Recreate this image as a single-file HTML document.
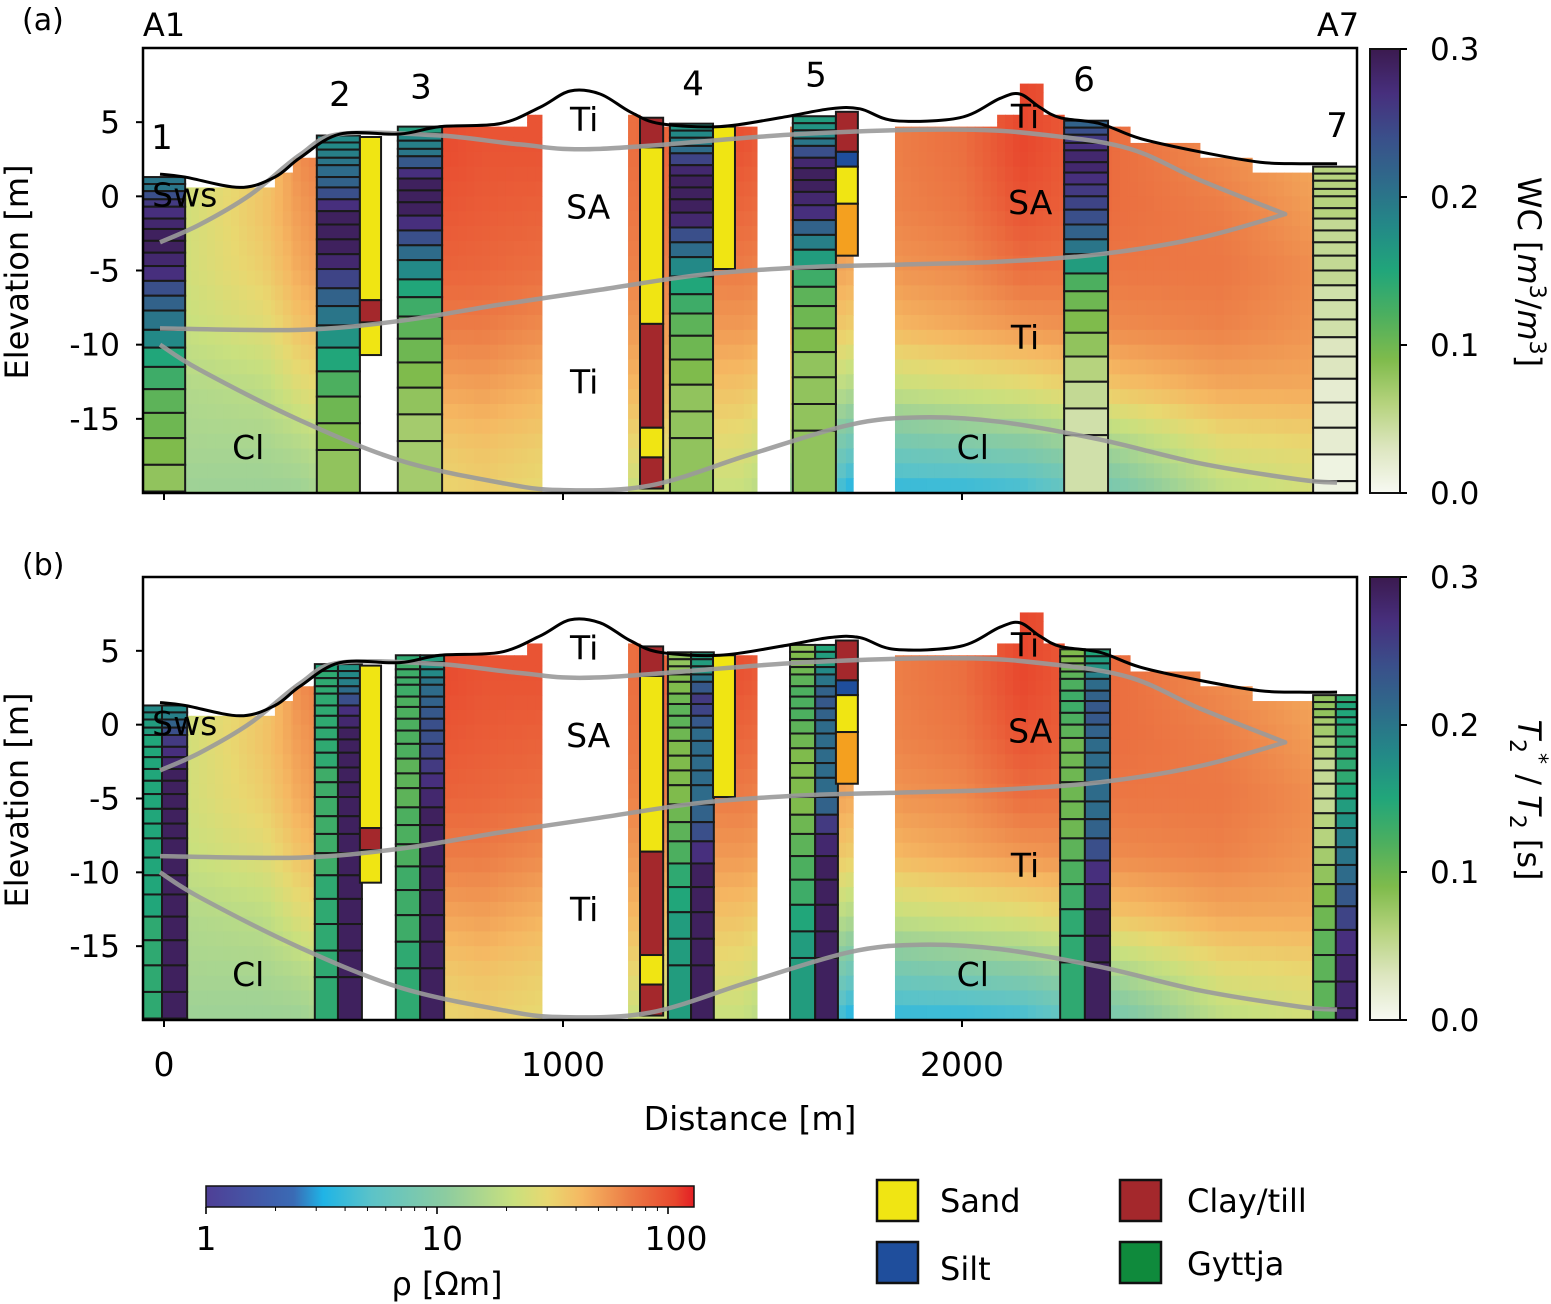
<!DOCTYPE html>
<html><head><meta charset="utf-8"><style>
html,body{margin:0;padding:0;background:#fff;}
svg{display:block;font-family:"DejaVu Sans","Liberation Sans",sans-serif;}
</style></head><body>
<svg id="fig" width="1551" height="1304" viewBox="0 0 1551 1304" xmlns="http://www.w3.org/2000/svg">
<defs>
<clipPath id="clipA"><rect x="143" y="48" width="1214" height="445"/></clipPath>
<clipPath id="clipB"><rect x="143" y="577" width="1214" height="443"/></clipPath>
<linearGradient id="wcGrad" x1="0" y1="1" x2="0" y2="0">
<stop offset="0" stop-color="#f7f9f2"/><stop offset="0.1" stop-color="#dde6c0"/><stop offset="0.2" stop-color="#b6d37e"/><stop offset="0.3" stop-color="#7fbb4c"/><stop offset="0.4" stop-color="#4caf5f"/><stop offset="0.5" stop-color="#21a67a"/><stop offset="0.6" stop-color="#238987"/><stop offset="0.7" stop-color="#2e6b8a"/><stop offset="0.8" stop-color="#3a4f8a"/><stop offset="0.9" stop-color="#472f7d"/><stop offset="1" stop-color="#3b1a4f"/>
</linearGradient>
<linearGradient id="rhoGrad" x1="0" y1="0" x2="1" y2="0">
<stop offset="0" stop-color="#4f3f96"/><stop offset="0.18" stop-color="#3a6bb5"/><stop offset="0.24" stop-color="#1fb4e6"/><stop offset="0.34" stop-color="#5cc3c8"/><stop offset="0.49" stop-color="#8ccca0"/><stop offset="0.63" stop-color="#c9e07e"/><stop offset="0.7" stop-color="#e8d870"/><stop offset="0.77" stop-color="#f5b862"/><stop offset="0.87" stop-color="#ec7a45"/><stop offset="0.96" stop-color="#e8482e"/><stop offset="1" stop-color="#e31e24"/>
</linearGradient>
</defs>
<g id="panelA"></g>
<g id="panelB"></g>
<g id="static">
<text x="22" y="30" font-size="30">(a)</text>
<text x="22" y="575" font-size="30">(b)</text>
<text x="164" y="36" font-size="32" text-anchor="middle">A1</text>
<text x="1338" y="36" font-size="32" text-anchor="middle">A7</text>
<text transform="translate(28,272) rotate(-90)" font-size="32" text-anchor="middle">Elevation [m]</text>
<text transform="translate(28,800) rotate(-90)" font-size="32" text-anchor="middle">Elevation [m]</text>
<text x="750" y="1130" font-size="33" text-anchor="middle">Distance [m]</text>
<rect x="1370" y="49" width="30" height="444" fill="url(#wcGrad)" stroke="#111" stroke-width="2"/>
<rect x="1370" y="577" width="30" height="443" fill="url(#wcGrad)" stroke="#111" stroke-width="2"/>
<g font-size="31">
<line x1="1400" y1="49" x2="1407" y2="49" stroke="#000" stroke-width="2"/><text x="1430" y="60">0.3</text>
<line x1="1400" y1="197" x2="1407" y2="197" stroke="#000" stroke-width="2"/><text x="1430" y="208">0.2</text>
<line x1="1400" y1="345" x2="1407" y2="345" stroke="#000" stroke-width="2"/><text x="1430" y="356">0.1</text>
<line x1="1400" y1="493" x2="1407" y2="493" stroke="#000" stroke-width="2"/><text x="1430" y="504">0.0</text>
</g>
<g font-size="31">
<line x1="1400" y1="577" x2="1407" y2="577" stroke="#000" stroke-width="2"/><text x="1430" y="588">0.3</text>
<line x1="1400" y1="725" x2="1407" y2="725" stroke="#000" stroke-width="2"/><text x="1430" y="736">0.2</text>
<line x1="1400" y1="872" x2="1407" y2="872" stroke="#000" stroke-width="2"/><text x="1430" y="883">0.1</text>
<line x1="1400" y1="1020" x2="1407" y2="1020" stroke="#000" stroke-width="2"/><text x="1430" y="1031">0.0</text>
</g>
<text transform="translate(1518,272) rotate(90)" font-size="32" text-anchor="middle">WC [<tspan font-style="italic">m</tspan><tspan font-size="22" dy="-12">3</tspan><tspan dy="12">/</tspan><tspan font-style="italic">m</tspan><tspan font-size="22" dy="-12">3</tspan><tspan dy="12">]</tspan></text>
<text transform="translate(1518,800) rotate(90)" font-size="32" text-anchor="middle"><tspan font-style="italic">T</tspan><tspan font-size="22" dy="8">2</tspan><tspan font-size="22" dy="-22">*</tspan><tspan dy="14"> / </tspan><tspan font-style="italic">T</tspan><tspan font-size="22" dy="8">2</tspan><tspan dy="-8"> [s]</tspan></text>
<rect x="206" y="1186" width="488" height="21" fill="url(#rhoGrad)" stroke="#111" stroke-width="1.5"/>
<g id="rhoTicks"></g>
<text x="206" y="1250" font-size="33" text-anchor="middle">1</text>
<text x="442" y="1250" font-size="33" text-anchor="middle">10</text>
<text x="676" y="1250" font-size="33" text-anchor="middle">100</text>
<text x="447" y="1295" font-size="32" text-anchor="middle">ρ [Ωm]</text>
<g><rect x="877" y="1180" width="41" height="41" fill="#f0e513" stroke="#111" stroke-width="2.5"/><text x="940" y="1212" font-size="32">Sand</text></g>
<g><rect x="877" y="1242" width="41" height="41" fill="#1f4e9c" stroke="#111" stroke-width="2.5"/><text x="940" y="1280" font-size="32">Silt</text></g>
<g><rect x="1120" y="1180" width="41" height="41" fill="#a4282c" stroke="#111" stroke-width="2.5"/><text x="1187" y="1212" font-size="32">Clay/till</text></g>
<g><rect x="1120" y="1242" width="41" height="41" fill="#0f8a3c" stroke="#111" stroke-width="2.5"/><text x="1187" y="1275" font-size="32">Gyttja</text></g>
</g>
</svg>
<script>
// ---------- DATA ----------
const xTicks = [0, 1000, 2000];
const yTicks = [5, 0, -5, -10, -15];
const yTickLabels = ["5", "0", "-5", "-10", "-15"];
const topoDist = [-10,53,190,278,341,441,591,692,842,942,1018,1093,1168,1243,1393,1544,1669,1744,1832,1995,2095,2145,2195,2246,2346,2446,2596,2747,2847,2940];
const topoElev = [1.5,1.3,0.6,1.3,2.6,4.2,4.2,4.7,4.9,6.0,7.1,6.9,5.7,4.9,4.7,5.3,5.9,5.9,5.1,5.3,6.6,6.9,6.0,5.3,4.9,3.9,3.0,2.3,2.2,2.2];
const lensTopDist = [-10,90,216,341,441,692,892,1093,1594,1995,2221,2421,2596,2810];
const lensTopElev = [-3.1,-1.9,0.1,2.8,4.2,4.1,3.5,3.2,4.2,4.5,4.1,3.2,1.1,-1.2];
const lensBotDist = [2810,2596,2346,2095,1845,1594,1343,1093,842,591,341,-10];
const lensBotElev = [-1.2,-2.8,-3.9,-4.4,-4.6,-4.8,-5.3,-6.3,-7.3,-8.4,-9.0,-8.9];
const clayTopDist = [-10,90,341,591,842,992,1218,1469,1719,1895,2095,2346,2596,2847,2940];
const clayTopElev = [-10,-11.7,-15.1,-17.8,-19.3,-19.8,-19.5,-17.4,-15.4,-14.9,-15.2,-16.4,-18.0,-19.1,-19.3];
const rhoElevLevels = [7,3,-1,-5,-9,-13,-17,-20];
const rhoProfileDist = [60,250,340,650,800,940,1170,1450,1600,1720,1850,2000,2150,2400,2650,2870];
const rhoP0 = [1.35,1.35,1.35,1.35,1.3,1.2,1.15,1.1];
const rhoP1 = [1.5,1.5,1.55,1.5,1.4,1.25,1.15,1.1];
const rhoP2 = [1.8,1.75,1.7,1.65,1.55,1.4,1.2,1.1];
const rhoP3 = [2.0,2.0,1.95,1.9,1.8,1.65,1.5,1.45];
const rhoP4 = [1.95,1.95,1.92,1.88,1.8,1.68,1.55,1.5];
const rhoP5 = [1.95,1.95,1.9,1.85,1.75,1.62,1.5,1.45];
const rhoP6 = [1.85,1.85,1.82,1.78,1.7,1.6,1.45,1.3];
const rhoP7 = [2.0,1.95,1.88,1.8,1.7,1.55,1.4,1.3];
const rhoP8 = [1.8,1.8,1.78,1.72,1.62,1.4,1.15,1.0];
const rhoP9 = [1.75,1.75,1.72,1.65,1.5,1.2,0.8,0.5];
const rhoP10 = [1.8,1.8,1.78,1.72,1.6,1.3,0.85,0.55];
const rhoP11 = [1.85,1.85,1.82,1.75,1.65,1.35,0.9,0.55];
const rhoP12 = [2.0,2.0,1.95,1.85,1.7,1.4,0.95,0.6];
const rhoP13 = [1.85,1.85,1.85,1.82,1.75,1.55,1.15,0.9];
const rhoP14 = [1.75,1.75,1.8,1.82,1.78,1.65,1.4,1.25];
const rhoP15 = [1.65,1.65,1.7,1.75,1.72,1.65,1.45,1.35];
const rhoProfiles = [rhoP0,rhoP1,rhoP2,rhoP3,rhoP4,rhoP5,rhoP6,rhoP7,rhoP8,rhoP9,rhoP10,rhoP11,rhoP12,rhoP13,rhoP14,rhoP15];
const rhoBlockStart = [-52,278,323,697,910,1163,1193,1569,1832,2088,2145,2203,2256,2421,2596,2727];
const rhoBlockEnd   = [278,323,383,910,947,1193,1486,1727,2088,2145,2203,2256,2421,2596,2727,2880];
const rhoBlockTop   = [0.6,1.6,2.6,4.7,5.5,5.5,4.7,4.7,4.7,5.5,7.6,5.5,4.7,3.6,2.6,1.6];
const layerDepths = [0,0.47,0.95,1.5,2.0,2.8,3.5,4.3,5.1,6.0,7.0,8.0,9.0,10.3,11.5,12.8,14.3,15.9,17.6,19.4,21.2,23.2];
const bhNames = ["1","2","3","4","5","6","7"];
const bhTop = [1.3,4.1,4.7,4.9,5.4,5.1,2.0];
const bhStartA = [-53,383,586,1268,1576,2256,2880];
const bhEndA   = [53,491,697,1376,1684,2366,2990];
const bhStartB = [-53,378,581,1263,1569,2246,2880];
const bhMidB   = [-5,436,642,1321,1632,2308,2937];
const bhEndB   = [58,496,702,1378,1689,2371,2990];
const bhLabelDist = [-5,441,644,1326,1634,2306,2940];
const bhLabelElev = [3.2,6.1,6.6,6.8,7.4,7.1,4.0];
const wc1 = [.2,.2,.24,.26,.27,.28,.29,.29,.28,.27,.24,.22,.2,.18,.15,.13,.11,.1,.09,.08,.08];
const wc2 = [.18,.18,.19,.2,.21,.22,.24,.27,.29,.29,.29,.28,.25,.22,.2,.17,.15,.12,.1,.09,.08];
const wc3 = [.16,.18,.19,.2,.23,.27,.29,.29,.29,.27,.24,.21,.18,.15,.13,.11,.1,.09,.08,.07,.07];
const wc4 = [.17,.18,.19,.21,.25,.28,.29,.29,.29,.28,.24,.21,.18,.15,.13,.11,.1,.09,.08,.08,.08];
const wc5 = [.16,.17,.18,.2,.24,.28,.29,.29,.28,.27,.22,.19,.16,.13,.11,.1,.09,.08,.08,.08,.08];
const wc6 = [.22,.24,.26,.27,.28,.28,.27,.26,.25,.24,.22,.2,.16,.12,.1,.09,.08,.06,.05,.04,.04];
const wc7 = [.06,.06,.06,.06,.06,.06,.05,.05,.05,.05,.05,.04,.04,.04,.03,.03,.02,.02,.02,.01,.01];
const wcValues = [wc1,wc2,wc3,wc4,wc5,wc6,wc7];
const t2s1 = [.18,.17,.16,.16,.15,.15,.15,.15,.15,.15,.15,.15,.15,.15,.15,.15,.14,.14,.14,.14,.14];
const t2a1 = [.18,.19,.22,.24,.26,.27,.28,.29,.29,.29,.29,.29,.29,.29,.29,.29,.29,.29,.29,.29,.29];
const t2s2 = [.15,.14,.14,.14,.14,.14,.14,.14,.14,.14,.13,.13,.13,.13,.13,.13,.14,.14,.14,.14,.14];
const t2a2 = [.17,.18,.19,.21,.24,.27,.28,.29,.29,.29,.29,.29,.29,.29,.29,.29,.29,.29,.29,.29,.29];
const t2s3 = [.14,.13,.13,.13,.13,.12,.12,.12,.12,.12,.11,.11,.11,.12,.12,.12,.13,.13,.13,.14,.14];
const t2a3 = [.16,.17,.18,.2,.21,.22,.23,.24,.24,.25,.26,.27,.28,.29,.29,.29,.29,.29,.29,.29,.29];
const t2s4 = [.08,.08,.08,.09,.09,.1,.11,.11,.1,.09,.09,.09,.09,.1,.11,.12,.14,.15,.16,.16,.16];
const t2a4 = [.16,.16,.17,.2,.23,.26,.25,.23,.21,.21,.21,.21,.21,.22,.24,.27,.29,.29,.29,.29,.29];
const t2s5 = [.08,.09,.09,.1,.11,.12,.12,.12,.11,.1,.09,.09,.09,.09,.1,.11,.12,.13,.15,.16,.16];
const t2a5 = [.15,.16,.16,.18,.2,.22,.23,.22,.21,.21,.21,.21,.21,.22,.26,.28,.29,.29,.29,.29,.29];
const t2s6 = [.09,.09,.1,.11,.12,.13,.13,.12,.11,.1,.1,.1,.1,.1,.1,.11,.12,.13,.14,.14,.14];
const t2a6 = [.15,.16,.17,.19,.21,.22,.23,.23,.22,.21,.21,.21,.21,.21,.22,.24,.27,.28,.29,.29,.29];
const t2s7 = [.08,.08,.08,.07,.07,.06,.06,.05,.05,.05,.05,.06,.06,.07,.08,.09,.1,.11,.11,.11,.11];
const t2a7 = [.14,.15,.15,.15,.14,.14,.14,.14,.14,.15,.16,.17,.19,.2,.21,.23,.25,.27,.28,.28,.28];
const t2sValues = [t2s1,t2s2,t2s3,t2s4,t2s5,t2s6,t2s7];
const t2Values = [t2a1,t2a2,t2a3,t2a4,t2a5,t2a6,t2a7];
const lithoStart = [491,1193,1376,1684];
const lithoEnd   = [544,1251,1431,1739];
const lithoTypes = [["sand","clay","sand"],["clay","sand","clay","sand","clay"],["sand"],["clay","silt","sand","gravel"]];
const lithoBounds = [[4.0,-7.0,-8.5,-10.7],[5.3,3.3,-8.6,-15.6,-17.6,-19.7],[4.7,-4.9],[5.7,3.0,2.0,-0.5,-4.0]];
const lithoColor = {sand:"#f0e513",clay:"#a4282c",silt:"#1f4e9c",gravel:"#f4a01f",gyttja:"#0f8a3c"};
const unitLabels = ["Ti","SA","Ti","Sws","Cl","Ti","SA","Ti","Cl"];
const unitLabelDist = [1053,1063,1053,52,211,2158,2171,2158,2027];
const unitLabelElev = [4.4,-1.5,-13.3,-0.7,-17.7,4.6,-1.2,-10.3,-17.7];
const rhoTickVals = [1,2,3,4,5,6,7,8,9,10,20,30,40,50,60,70,80,90,100];

// ---------- SCALES ----------
const NS = "http://www.w3.org/2000/svg";
const X0 = 164, XS = 0.399;
function xS(d){ return X0 + d*XS; }
function mkY(top, bottom){ const s=(bottom-top)/30; return e => top + (10-e)*s; }
const panels = [
  {g:document.getElementById('panelA'), y:mkY(48,493), top:48, bot:493, clip:'clipA', id:'a'},
  {g:document.getElementById('panelB'), y:mkY(577,1020), top:577, bot:1020, clip:'clipB', id:'b'}
];
function el(tag, attrs, parent){ const e=document.createElementNS(NS,tag); for(const k in attrs) e.setAttribute(k,attrs[k]); parent.appendChild(e); return e; }
function hex(h){ return [parseInt(h.substr(1,2),16),parseInt(h.substr(3,2),16),parseInt(h.substr(5,2),16)]; }
function lerpColor(stops, t){
  t=Math.max(0,Math.min(1,t));
  for(let i=1;i<stops.length;i++){ if(t<=stops[i][0]){ const a=stops[i-1],b=stops[i]; const f=(t-a[0])/(b[0]-a[0]||1);
    const ca=hex(a[1]), cb=hex(b[1]); return `rgb(${Math.round(ca[0]+(cb[0]-ca[0])*f)},${Math.round(ca[1]+(cb[1]-ca[1])*f)},${Math.round(ca[2]+(cb[2]-ca[2])*f)})`; } }
  return stops[stops.length-1][1];
}
const wcStops=[[0,"#f7f9f2"],[.1,"#dde6c0"],[.2,"#b6d37e"],[.3,"#7fbb4c"],[.4,"#4caf5f"],[.5,"#21a67a"],[.6,"#238987"],[.7,"#2e6b8a"],[.8,"#3a4f8a"],[.9,"#472f7d"],[1,"#3b1a4f"]];
const rhoStops=[[0,"#4f3f96"],[.18,"#3a6bb5"],[.24,"#1fb4e6"],[.34,"#5cc3c8"],[.49,"#8ccca0"],[.63,"#c9e07e"],[.7,"#e8d870"],[.77,"#f5b862"],[.87,"#ec7a45"],[.96,"#e8482e"],[1,"#e31e24"]];
function wcColor(v){ return lerpColor(wcStops, v/0.3); }
function rhoColor(lr){ return lerpColor(rhoStops, lr/2.08); }
function interp1(xs, ys, x){ if(x<=xs[0]) return ys[0]; if(x>=xs[xs.length-1]) return ys[ys.length-1];
  for(let i=1;i<xs.length;i++) if(x<=xs[i]){ const f=(x-xs[i-1])/(xs[i]-xs[i-1]); return ys[i-1]+(ys[i]-ys[i-1])*f; } }
function rhoAt(d,e){
  const lv = rhoElevLevels.map(v=>-v);
  const prof = rhoProfiles.map(p=>interp1(lv,p,-e));
  return interp1(rhoProfileDist, prof, d);
}
function smoothSeg(ds, es, y, move){
  const p = ds.map((d,i)=>[xS(d), y(es[i])]);
  let s = move ? 'M'+p[0][0]+','+p[0][1] : '';
  for(let i=0;i<p.length-1;i++){ const p0=p[i-1]||p[i], p1=p[i], p2=p[i+1], p3=p[i+2]||p2;
    s+=` C${p1[0]+(p2[0]-p0[0])/6},${p1[1]+(p2[1]-p0[1])/6} ${p2[0]-(p3[0]-p1[0])/6},${p2[1]-(p3[1]-p1[1])/6} ${p2[0]},${p2[1]}`; }
  return s;
}

panels.forEach((P, pi)=>{
  const y = P.y, g = P.g;
  const data = el('g',{'clip-path':`url(#${P.clip})`},g);
  
  
  const rg = el('g',{},data);
  
  
  for(let b=0;b<rhoBlockStart.length;b++){
    for(let d=rhoBlockStart[b]; d<rhoBlockEnd[b]; d+=20){
      const d2=Math.min(d+20, rhoBlockEnd[b]);
      let e=rhoBlockTop[b];
      while(e>-20){
        const fl = Math.floor(e);
        const eb = (fl===e) ? e-1 : fl;
        const v = rhoAt((d+d2)/2, (e+eb)/2);
        const r = el('rect',{x:xS(d).toFixed(2), y:y(e).toFixed(2), width:(xS(d2)-xS(d)+0.6).toFixed(2), height:(y(eb)-y(e)+0.6).toFixed(2), fill:rhoColor(v)},rg);
        
        
        e = eb;
      }
    }
  }
  function drawColumn(d0,d1,top,vals,name){
    const cg = el('g',{},data);
    
    
    for(let i=0;i<vals.length;i++){
      const e0 = top-layerDepths[i];
      if(e0<=-20.5) break;
      const e1 = (i===vals.length-1) ? -20.5 : Math.max(-20.5, top-layerDepths[i+1]);
      const r = el('rect',{x:xS(d0), y:y(e0), width:xS(d1)-xS(d0), height:y(e1)-y(e0), fill:wcColor(vals[i]), stroke:'#1a1a1a','stroke-width':2},cg);
      
      
    }
  }
  for(let k=0;k<bhNames.length;k++){
    if(pi===0) drawColumn(bhStartA[k], bhEndA[k], bhTop[k], wcValues[k], 'borehole-'+bhNames[k]+'-wc');
    else { drawColumn(bhStartB[k], bhMidB[k], bhTop[k], t2sValues[k], 'borehole-'+bhNames[k]+'-t2star');
           drawColumn(bhMidB[k], bhEndB[k], bhTop[k], t2Values[k], 'borehole-'+bhNames[k]+'-t2'); }
  }
  for(let k=0;k<lithoStart.length;k++){
    const lg = el('g',{},data);
    
    
    for(let i=0;i<lithoTypes[k].length;i++){
      const r = el('rect',{x:xS(lithoStart[k]), y:y(lithoBounds[k][i]), width:xS(lithoEnd[k])-xS(lithoStart[k]), height:y(lithoBounds[k][i+1])-y(lithoBounds[k][i]), fill:lithoColor[lithoTypes[k][i]], stroke:'#1a1a1a','stroke-width':2},lg);
      
      
    }
  }
  const l1 = el('path',{d:smoothSeg(lensTopDist,lensTopElev,y,true)+smoothSeg(lensBotDist,lensBotElev,y,false), fill:'none', stroke:'#9a9a9a','stroke-width':4.5,'stroke-opacity':0.9,'stroke-linejoin':'round'},data);
  
  
  const l2 = el('path',{d:smoothSeg(clayTopDist,clayTopElev,y,true), fill:'none', stroke:'#9a9a9a','stroke-width':4.5,'stroke-opacity':0.9},data);
  
  
  const tp = el('path',{d:smoothSeg(topoDist,topoElev,y,true), fill:'none', stroke:'#000','stroke-width':3},data);
  
  
  for(let i=0;i<unitLabels.length;i++){
    const t = el('text',{x:xS(unitLabelDist[i]), y:y(unitLabelElev[i]), 'font-size':33, 'text-anchor':'middle'},g);
    t.textContent = unitLabels[i];
    
    
  }
  if(pi===0){
    for(let k=0;k<bhNames.length;k++){
      const t = el('text',{x:xS(bhLabelDist[k]), y:y(bhLabelElev[k]), 'font-size':34, 'text-anchor':'middle'},g);
      t.textContent = bhNames[k];
      
      
    }
  }
  const fr = el('rect',{x:143, y:P.top, width:1214, height:P.bot-P.top, fill:'none', stroke:'#000','stroke-width':2.5},g);
  
  
  yTicks.forEach((v,i)=>{
    const ln = el('line',{x1:136, x2:143, y1:y(v), y2:y(v), stroke:'#000','stroke-width':2},g);
    
    
    const t = el('text',{x:120, y:y(v)+11, 'font-size':31, 'text-anchor':'end'},g);
    t.textContent = yTickLabels[i];
    
    
  });
  xTicks.forEach(v=>{
    const ln = el('line',{x1:xS(v), x2:xS(v), y1:P.bot, y2:P.bot+7, stroke:'#000','stroke-width':2},g);
    
    
    if(pi===1){
      const t = el('text',{x:xS(v), y:P.bot+56, 'font-size':33, 'text-anchor':'middle'},g);
      t.textContent = String(v);
      
      
    }
  });
});
const rt = document.getElementById('rhoTicks');
rhoTickVals.forEach(v=>{
  const x = 206 + Math.log10(v)*231;
  const major = (v===1||v===10||v===100);
  const ln = el('line',{x1:x, x2:x, y1:1207, y2:1207+(major?7:4), stroke:'#000','stroke-width':major?1.6:1},rt);
  
  
});
</script>
</body></html>
